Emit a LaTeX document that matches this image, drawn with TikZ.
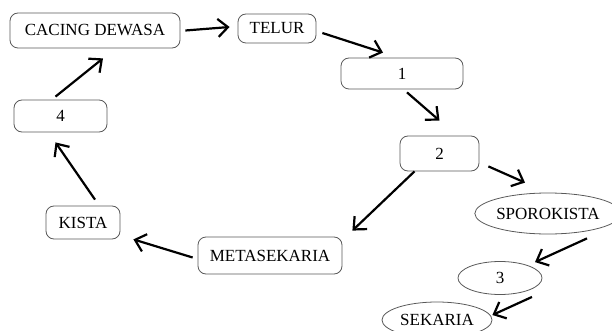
\documentclass[tikz,border=0pt]{standalone}
\usepackage{fontspec}
\setmainfont{Liberation Serif}
\usetikzlibrary{shapes.geometric,arrows.meta}

\begin{document}
\begin{tikzpicture}[x=1pt,y=-1pt]
\tikzstyle{kotak}=[rectangle,rounded corners=8pt,draw=black!65,line width=0.8pt,inner sep=0pt,font=\fontsize{17}{20}\selectfont]
\tikzstyle{bulat}=[ellipse,draw=black!65,line width=0.8pt,inner sep=0pt,font=\fontsize{17}{20}\selectfont]
\tikzstyle{panah}=[-{Straight Barb[length=10pt,width=18pt]},line width=2.2pt]
\useasboundingbox (0,0) rectangle (612,331);

\node[kotak,minimum width=170,minimum height=35](dewasa) at (95,30.5) {CACING DEWASA};
\node[kotak,minimum width=78,minimum height=29](telur) at (277,28.5) {TELUR};
\node[kotak,minimum width=122,minimum height=31](satu) at (402,73.5) {1};
\node[kotak,minimum width=79,minimum height=35](dua) at (439.5,153.5) {2};
\node[bulat,minimum width=127,minimum height=41](sporo) at (548,213.5) {SPOROKISTA};
\node[bulat,minimum width=84,minimum height=33](tiga) at (500,278) {3};
\node[bulat,minimum width=110,minimum height=36](sekaria) at (437,320) {SEKARIA};
\node[kotak,minimum width=144,minimum height=37](meta) at (270,255.5) {METASEKARIA};
\node[kotak,minimum width=74,minimum height=33](kista) at (83,222.5) {KISTA};
\node[kotak,minimum width=93,minimum height=32](empat) at (60.5,116) {4};

\draw[panah] ([xshift=5pt]dewasa.east) -- ([xshift=-8pt,yshift=1.5pt]telur.west);
\draw[panah] ([xshift=6pt,yshift=-4.5pt]telur.east) -- ([xshift=-19pt,yshift=5pt]satu.north);
\draw[panah] ([xshift=5pt,yshift=-3pt]satu.south) -- ([yshift=15pt]dua.north);
\draw[panah] ([xshift=-25pt]dua.south) -- ([xshift=10pt,yshift=6pt]meta.north east);
\draw[panah] ([xshift=9pt,yshift=5pt]dua.south east) -- ([xshift=-23pt,yshift=10pt]sporo.north);
\draw[panah] ([xshift=39pt,yshift=-4pt]sporo.south) -- ([xshift=35pt,yshift=-1pt]tiga.north);
\draw[panah] ([xshift=2pt,yshift=-7pt]tiga.south east) -- ([yshift=5pt]sekaria.east);
\draw[panah] ([xshift=-5pt,yshift=-2pt]meta.west) -- ([xshift=13pt]kista.south east);
\draw[panah] ([xshift=12pt,yshift=6pt]kista.north) -- ([xshift=-5pt,yshift=-10pt]empat.south);
\draw[panah] ([xshift=-5pt,yshift=3pt]empat.north) -- ([xshift=8pt,yshift=-10pt]dewasa.south);
\end{tikzpicture}
\end{document}
